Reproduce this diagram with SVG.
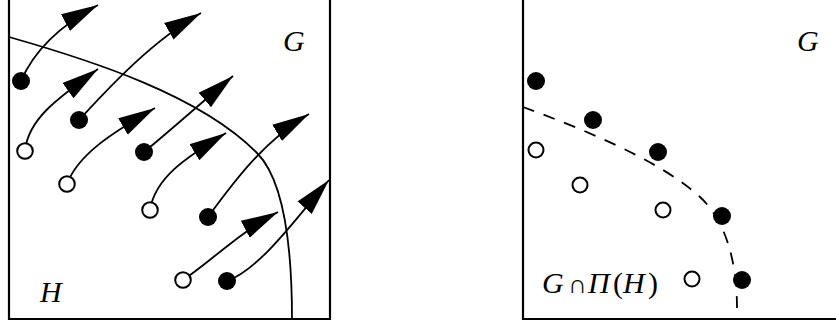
<svg xmlns="http://www.w3.org/2000/svg" width="836" height="328" viewBox="0 0 836 328">
<defs>
<marker id="ah" markerUnits="userSpaceOnUse" markerWidth="40" markerHeight="22" viewBox="0 -11 40 22" refX="37" refY="0" orient="auto">
<path d="M0,-9.5 L37,0 L0,9.5 Z" fill="#000"/>
</marker>
<style>
.box{fill:none;stroke:#000;stroke-width:2.2}
.bd{fill:none;stroke:#000;stroke-width:1.8}
.ds{fill:none;stroke:#000;stroke-width:1.8;stroke-dasharray:12 10}
.ar{fill:none;stroke:#000;stroke-width:1.8;marker-end:url(#ah)}
.f{fill:#000}
.o{fill:#fff;stroke:#000;stroke-width:2}
.t{font-family:"Liberation Serif","DejaVu Serif",serif;font-style:italic;font-size:30px;fill:#000}
.n{font-style:normal}
</style>
</defs>
<g id="left-panel">
<path class="box" d="M9,-2 V319 H330 V-2"/>
<path id="boundary-H" class="bd" d="M9,37 C90,60 200,95 257,153 C280,176 292,230 292,319"/>
<text class="t" x="283" y="51">G</text>
<text class="t" x="40" y="302">H</text>
</g>
<g id="connectors">
<path class="ar" d="M21,81 C30,60 48,32 98,5"/>
<path class="ar" d="M25,151 C28,120 55,100 98,69"/>
<path class="ar" d="M79,120 C105,92 150,42 201,13"/>
<path class="ar" d="M67,184 C78,155 110,134 155,108"/>
<path class="ar" d="M144,152 C165,135 200,104 233,76"/>
<path class="ar" d="M150,210 C155,178 185,158 226,133"/>
<path class="ar" d="M208,217 C235,180 265,140 309,114"/>
<path class="ar" d="M183,280 C210,262 240,232 278,212"/>
<path class="ar" d="M227,281 C262,268 300,213 329,180"/>
</g>
<g id="left-points">
<circle id="p1" class="f" cx="21" cy="81" r="9"/>
<circle id="p2" class="f" cx="79" cy="120" r="9"/>
<circle id="p3" class="f" cx="144" cy="152" r="9"/>
<circle id="p4" class="f" cx="208" cy="217" r="9"/>
<circle id="p5" class="f" cx="227" cy="281" r="9"/>
<circle id="q1" class="o" cx="25" cy="151" r="7.8"/>
<circle id="q2" class="o" cx="67" cy="184" r="7.8"/>
<circle id="q3" class="o" cx="150" cy="210" r="7.8"/>
<circle id="q4" class="o" cx="183" cy="280" r="7.8"/>
</g>
<g id="right-panel">
<path class="box" d="M523,-2 V319 H838"/>
<path id="boundary-GPiH" class="ds" d="M523,107 C580,128 660,160 700,197 C725,220 737,260 737,308"/>
<text class="t" x="797" y="51">G</text>
<text class="t" y="293"><tspan x="542">G</tspan><tspan class="n" x="568" font-size="26">∩</tspan><tspan x="588">Π</tspan><tspan class="n" x="613">(</tspan><tspan x="623">H</tspan><tspan class="n" x="648">)</tspan></text>
</g>
<g id="right-points">
<circle id="r1" class="f" cx="536" cy="81" r="9"/>
<circle id="r2" class="f" cx="593" cy="120" r="9"/>
<circle id="r3" class="f" cx="658" cy="152" r="9"/>
<circle id="r4" class="f" cx="722" cy="216" r="9"/>
<circle id="r5" class="f" cx="742" cy="280" r="9"/>
<circle id="s1" class="o" cx="536" cy="150" r="7.5"/>
<circle id="s2" class="o" cx="580" cy="185" r="7.5"/>
<circle id="s3" class="o" cx="663" cy="210" r="7.5"/>
<circle id="s4" class="o" cx="692" cy="279" r="7.5"/>
</g>
</svg>
